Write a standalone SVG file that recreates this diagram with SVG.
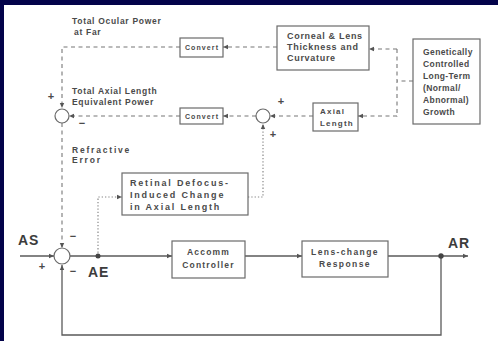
<svg xmlns="http://www.w3.org/2000/svg" width="498" height="341" viewBox="0 0 498 341">
<style>
.bx{fill:#fff;stroke:#6a6a6a;stroke-width:1.2}
.t{font-family:"Liberation Sans",Arial,sans-serif;font-weight:bold;fill:#4a4a4a}
.s{font-size:8.5px;letter-spacing:0.7px}
.c{font-size:7px;letter-spacing:1.1px}
.big{font-size:14px;letter-spacing:1px;fill:#3c3c3c}
.dash{fill:none;stroke:#777;stroke-width:1.1;stroke-dasharray:4 3.5}
.dot{fill:none;stroke:#888;stroke-width:1.2;stroke-dasharray:1.3 2}
.sol{fill:none;stroke:#5a5a5a;stroke-width:1.3}
.sum{fill:#fff;stroke:#6a6a6a;stroke-width:1.2}
</style>
<defs>
<marker id="ah" markerUnits="userSpaceOnUse" markerWidth="6" markerHeight="6" refX="5" refY="3" orient="auto">
<path d="M0,0.8 L5,3 L0,5.2 z" fill="#555"/>
</marker>
</defs>
<rect x="0" y="0" width="498" height="341" fill="#03034a"/>
<rect x="4" y="5" width="494" height="336" fill="#fff"/>

<g id="connectors">
<path class="dash" d="M277,47 H223" marker-end="url(#ah)"/>
<path class="dash" d="M180,47 H62 V108" marker-end="url(#ah)"/>
<path class="dash" d="M256,116 H223" marker-end="url(#ah)"/>
<path class="dash" d="M180,116 H69" marker-end="url(#ah)"/>
<path class="dash" d="M313,116 H270" marker-end="url(#ah)"/>
<path class="dash" d="M413,81 H397"/>
<path class="dash" d="M397,49 V117"/>
<path class="dash" d="M397,49 H369" marker-end="url(#ah)"/>
<path class="dash" d="M397,116 H358" marker-end="url(#ah)"/>
<path class="dash" d="M62,123 V248" marker-end="url(#ah)"/>
<path class="dot" d="M248,197 H263 V124" marker-end="url(#ah)"/>
<path class="dot" d="M98,256 V197 H122" marker-end="url(#ah)"/>
<path class="sol" d="M20,256 H54" marker-end="url(#ah)"/>
<path class="sol" d="M70,256 H172" marker-end="url(#ah)"/>
<path class="sol" d="M245,256 H302" marker-end="url(#ah)"/>
<path class="sol" d="M388,256 H468" marker-end="url(#ah)"/>
<path class="sol" d="M441,256 V335 H62 V265" marker-end="url(#ah)"/>
<circle cx="98" cy="256" r="2.5" fill="#444"/>
<circle cx="441" cy="256" r="2.7" fill="#444"/>
</g>

<g id="labels">
<text class="t s" x="72" y="24">Total Ocular Power</text>
<text class="t s" x="74" y="35">at Far</text>
<text class="t s" x="72" y="94">Total Axial Length</text>
<text class="t s" x="72" y="105">Equivalent Power</text>
<text class="t s" x="72" y="153" style="letter-spacing:1.8px">Refractive</text>
<text class="t s" x="72" y="163" style="letter-spacing:1.8px">Error</text>
<text class="t big" x="18" y="245">AS</text>
<text class="t big" x="88" y="277">AE</text>
<text class="t big" x="448" y="248">AR</text>
</g>

<g id="signs" class="t" style="font-size:11px">
<text x="51" y="100" text-anchor="middle">+</text>
<text x="82" y="127" text-anchor="middle">−</text>
<text x="281" y="105" text-anchor="middle">+</text>
<text x="273" y="138" text-anchor="middle">+</text>
<text x="73" y="240" text-anchor="middle">−</text>
<text x="42" y="270" text-anchor="middle">+</text>
<text x="73" y="275" text-anchor="middle">−</text>
</g>

<g id="sum1"><circle class="sum" cx="62" cy="116" r="7"/></g>
<g id="sum2"><circle class="sum" cx="263" cy="116" r="7"/></g>
<g id="sum3"><circle class="sum" cx="62" cy="256" r="8"/></g>

<g id="convert-top">
<rect class="bx" x="180" y="38" width="43" height="19"/>
<text class="t c" x="202" y="50" text-anchor="middle">Convert</text>
</g>
<g id="convert-bottom">
<rect class="bx" x="180" y="108" width="43" height="16"/>
<text class="t c" x="202" y="119" text-anchor="middle">Convert</text>
</g>
<g id="corneal">
<rect class="bx" x="277" y="26" width="92" height="44"/>
<text class="t" style="font-size:9px;letter-spacing:0.7px" x="287" y="39">Corneal &amp; Lens</text>
<text class="t" style="font-size:9px;letter-spacing:0.7px" x="287" y="50">Thickness and</text>
<text class="t" style="font-size:9px;letter-spacing:0.7px" x="287" y="61">Curvature</text>
</g>
<g id="genetic">
<rect class="bx" x="413" y="39" width="67" height="85"/>
<text class="t" style="font-size:8.5px;letter-spacing:0.4px" x="423" y="55">Genetically</text>
<text class="t" style="font-size:8.5px;letter-spacing:0.4px" x="423" y="67">Controlled</text>
<text class="t" style="font-size:8.5px;letter-spacing:0.4px" x="423" y="79">Long-Term</text>
<text class="t" style="font-size:8.5px;letter-spacing:0.4px" x="423" y="91">(Normal/</text>
<text class="t" style="font-size:8.5px;letter-spacing:0.4px" x="423" y="103">Abnormal)</text>
<text class="t" style="font-size:8.5px;letter-spacing:0.4px" x="423" y="115">Growth</text>
</g>
<g id="axial">
<rect class="bx" x="313" y="103" width="45" height="28"/>
<text class="t" style="font-size:8px;letter-spacing:1.2px" x="320" y="114">Axial</text>
<text class="t" style="font-size:8px;letter-spacing:1.2px" x="320" y="126">Length</text>
</g>
<g id="retinal">
<rect class="bx" x="122" y="173" width="126" height="42"/>
<text class="t" style="font-size:9px;letter-spacing:1.8px" x="130" y="186">Retinal Defocus-</text>
<text class="t" style="font-size:9px;letter-spacing:1.8px" x="130" y="198">Induced Change</text>
<text class="t" style="font-size:9px;letter-spacing:1.8px" x="130" y="210">in Axial Length</text>
</g>
<g id="accomm">
<rect class="bx" x="172" y="241" width="73" height="37"/>
<text class="t" style="font-size:8.5px;letter-spacing:1.2px" x="208.5" y="255" text-anchor="middle">Accomm</text>
<text class="t" style="font-size:8.5px;letter-spacing:1.2px" x="208.5" y="268" text-anchor="middle">Controller</text>
</g>
<g id="lens">
<rect class="bx" x="302" y="241" width="86" height="36"/>
<text class="t" style="font-size:8.5px;letter-spacing:1.4px" x="345" y="255" text-anchor="middle">Lens-change</text>
<text class="t" style="font-size:8.5px;letter-spacing:1.4px" x="345" y="267" text-anchor="middle">Response</text>
</g>
</svg>
